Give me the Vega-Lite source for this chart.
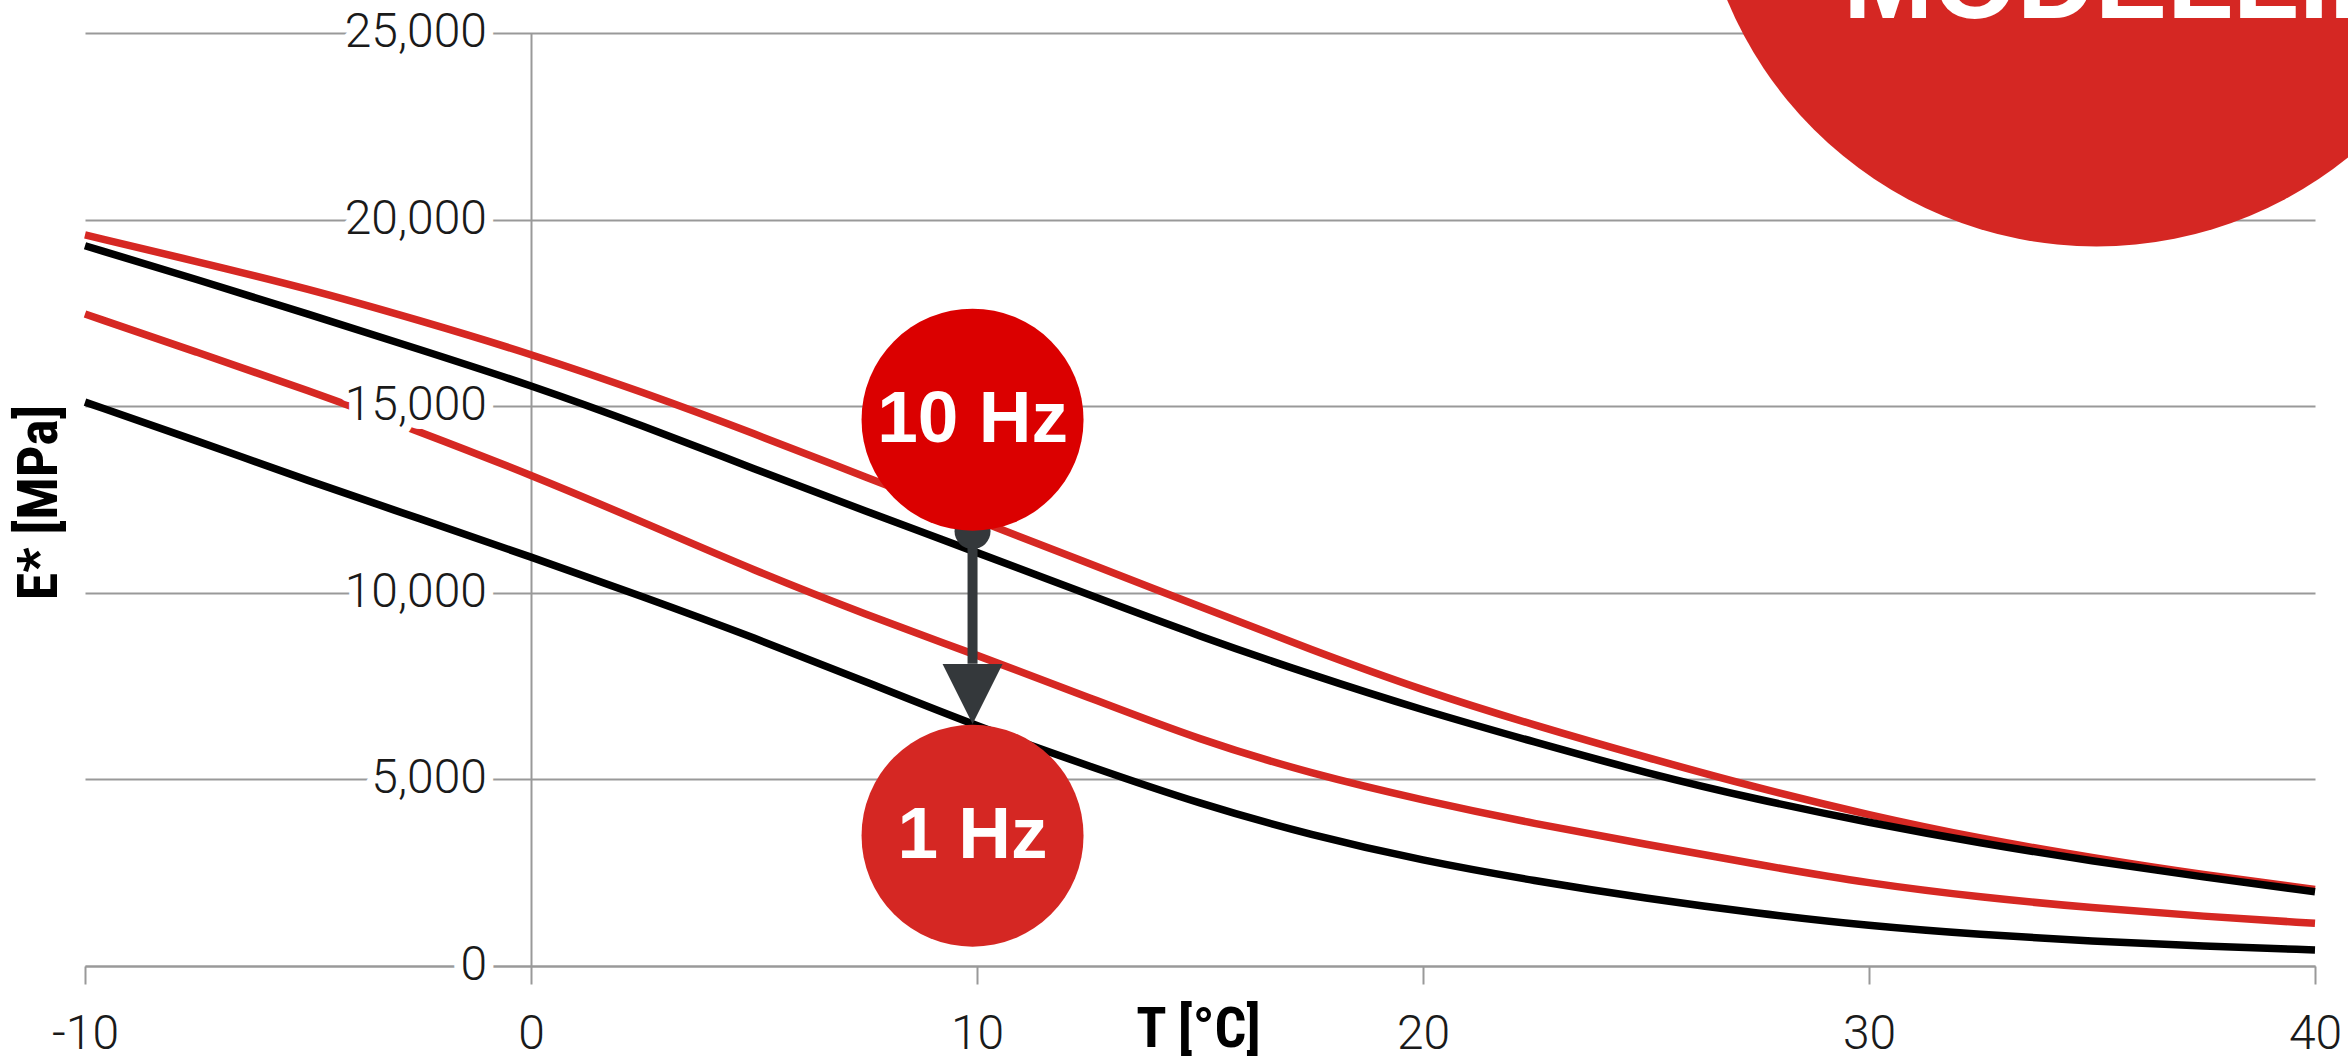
{
  "$schema": "https://vega.github.io/schema/vega-lite/v6.json",
  "autosize": {"type": "none"},
  "padding": {"left": 85, "top": 33, "right": 33, "bottom": 94},
  "width": 2230,
  "height": 933,
  "background": "white",
  "config": {"view": {"stroke": null}},
  "datasets": {
    "curves": [
      {"T": -10, "E": 19590, "series": "10 Hz modelliert"},
      {"T": -7.5, "E": 18880, "series": "10 Hz modelliert"},
      {"T": -5, "E": 18150, "series": "10 Hz modelliert"},
      {"T": -2.5, "E": 17300, "series": "10 Hz modelliert"},
      {"T": 0, "E": 16400, "series": "10 Hz modelliert"},
      {"T": 2.5, "E": 15380, "series": "10 Hz modelliert"},
      {"T": 5, "E": 14270, "series": "10 Hz modelliert"},
      {"T": 7.5, "E": 13100, "series": "10 Hz modelliert"},
      {"T": 10, "E": 11950, "series": "10 Hz modelliert"},
      {"T": 12.5, "E": 10790, "series": "10 Hz modelliert"},
      {"T": 15, "E": 9630, "series": "10 Hz modelliert"},
      {"T": 17.5, "E": 8470, "series": "10 Hz modelliert"},
      {"T": 20, "E": 7380, "series": "10 Hz modelliert"},
      {"T": 22.5, "E": 6450, "series": "10 Hz modelliert"},
      {"T": 25, "E": 5590, "series": "10 Hz modelliert"},
      {"T": 27.5, "E": 4770, "series": "10 Hz modelliert"},
      {"T": 30, "E": 4040, "series": "10 Hz modelliert"},
      {"T": 32.5, "E": 3410, "series": "10 Hz modelliert"},
      {"T": 35, "E": 2900, "series": "10 Hz modelliert"},
      {"T": 37.5, "E": 2440, "series": "10 Hz modelliert"},
      {"T": 40, "E": 2054, "series": "10 Hz modelliert"},

      {"T": -10, "E": 19300, "series": "10 Hz gemessen"},
      {"T": -7.5, "E": 18400, "series": "10 Hz gemessen"},
      {"T": -5, "E": 17470, "series": "10 Hz gemessen"},
      {"T": -2.5, "E": 16520, "series": "10 Hz gemessen"},
      {"T": 0, "E": 15560, "series": "10 Hz gemessen"},
      {"T": 2.5, "E": 14480, "series": "10 Hz gemessen"},
      {"T": 5, "E": 13320, "series": "10 Hz gemessen"},
      {"T": 7.5, "E": 12190, "series": "10 Hz gemessen"},
      {"T": 10, "E": 11080, "series": "10 Hz gemessen"},
      {"T": 12.5, "E": 9950, "series": "10 Hz gemessen"},
      {"T": 15, "E": 8830, "series": "10 Hz gemessen"},
      {"T": 17.5, "E": 7800, "series": "10 Hz gemessen"},
      {"T": 20, "E": 6850, "series": "10 Hz gemessen"},
      {"T": 22.5, "E": 6000, "series": "10 Hz gemessen"},
      {"T": 25, "E": 5170, "series": "10 Hz gemessen"},
      {"T": 27.5, "E": 4460, "series": "10 Hz gemessen"},
      {"T": 30, "E": 3840, "series": "10 Hz gemessen"},
      {"T": 32.5, "E": 3290, "series": "10 Hz gemessen"},
      {"T": 35, "E": 2815, "series": "10 Hz gemessen"},
      {"T": 37.5, "E": 2380, "series": "10 Hz gemessen"},
      {"T": 40, "E": 1991, "series": "10 Hz gemessen"},

      {"T": -10, "E": 17470, "series": "1 Hz modelliert"},
      {"T": -7.5, "E": 16450, "series": "1 Hz modelliert"},
      {"T": -5, "E": 15430, "series": "1 Hz modelliert"},
      {"T": -2.5, "E": 14320, "series": "1 Hz modelliert"},
      {"T": 0, "E": 13160, "series": "1 Hz modelliert"},
      {"T": 2.5, "E": 11900, "series": "1 Hz modelliert"},
      {"T": 5, "E": 10600, "series": "1 Hz modelliert"},
      {"T": 7.5, "E": 9420, "series": "1 Hz modelliert"},
      {"T": 10, "E": 8330, "series": "1 Hz modelliert"},
      {"T": 12.5, "E": 7200, "series": "1 Hz modelliert"},
      {"T": 15, "E": 6050, "series": "1 Hz modelliert"},
      {"T": 17.5, "E": 5150, "series": "1 Hz modelliert"},
      {"T": 20, "E": 4440, "series": "1 Hz modelliert"},
      {"T": 22.5, "E": 3810, "series": "1 Hz modelliert"},
      {"T": 25, "E": 3260, "series": "1 Hz modelliert"},
      {"T": 27.5, "E": 2720, "series": "1 Hz modelliert"},
      {"T": 30, "E": 2210, "series": "1 Hz modelliert"},
      {"T": 32.5, "E": 1840, "series": "1 Hz modelliert"},
      {"T": 35, "E": 1555, "series": "1 Hz modelliert"},
      {"T": 37.5, "E": 1330, "series": "1 Hz modelliert"},
      {"T": 40, "E": 1143, "series": "1 Hz modelliert"},

      {"T": -10, "E": 15110, "series": "1 Hz gemessen"},
      {"T": -7.5, "E": 14080, "series": "1 Hz gemessen"},
      {"T": -5, "E": 13000, "series": "1 Hz gemessen"},
      {"T": -2.5, "E": 11990, "series": "1 Hz gemessen"},
      {"T": 0, "E": 10960, "series": "1 Hz gemessen"},
      {"T": 2.5, "E": 9900, "series": "1 Hz gemessen"},
      {"T": 5, "E": 8800, "series": "1 Hz gemessen"},
      {"T": 7.5, "E": 7620, "series": "1 Hz gemessen"},
      {"T": 10, "E": 6420, "series": "1 Hz gemessen"},
      {"T": 12.5, "E": 5360, "series": "1 Hz gemessen"},
      {"T": 15, "E": 4340, "series": "1 Hz gemessen"},
      {"T": 17.5, "E": 3500, "series": "1 Hz gemessen"},
      {"T": 20, "E": 2820, "series": "1 Hz gemessen"},
      {"T": 22.5, "E": 2280, "series": "1 Hz gemessen"},
      {"T": 25, "E": 1810, "series": "1 Hz gemessen"},
      {"T": 27.5, "E": 1410, "series": "1 Hz gemessen"},
      {"T": 30, "E": 1075, "series": "1 Hz gemessen"},
      {"T": 32.5, "E": 840, "series": "1 Hz gemessen"},
      {"T": 35, "E": 660, "series": "1 Hz gemessen"},
      {"T": 37.5, "E": 530, "series": "1 Hz gemessen"},
      {"T": 40, "E": 429, "series": "1 Hz gemessen"}
    ],
    "yticks": [
      {"E": 0}, {"E": 5000}, {"E": 10000}, {"E": 15000}, {"E": 20000}, {"E": 25000}
    ]
  },
  "layer": [
    {
      "data": {"name": "curves"},
      "mark": {"type": "line", "strokeWidth": 7.5, "interpolate": "basis"},
      "encoding": {
        "x": {
          "field": "T", "type": "quantitative",
          "scale": {"domain": [-10, 40], "nice": false, "zero": false},
          "axis": {
            "values": [-10, 0, 10, 20, 30, 40],
            "labelExpr": "'' + datum.value",
            "grid": false,
            "domainColor": "#999999", "domainWidth": 2,
            "tickColor": "#999999", "tickWidth": 2, "tickSize": 18,
            "labelFont": "Roboto", "labelFontSize": 48, "labelFontWeight": 300, "labelColor": "#1a1a1a",
            "labelBaseline": "alphabetic", "labelPadding": 64, "labelFlush": false, "labelOverlap": false,
            "title": "T [°C]",
            "titleFont": "Liberation Sans Narrow, Roboto Condensed, DejaVu Sans Condensed, sans-serif",
            "titleFontSize": 56, "titleFontWeight": "bold", "titleColor": "#000000",
            "titleX": 1113, "titleY": 80, "titleAlign": "center", "titleBaseline": "alphabetic"
          }
        },
        "y": {
          "field": "E", "type": "quantitative",
          "scale": {"domain": [0, 25000], "nice": false},
          "axis": {
            "values": [0, 5000, 10000, 15000, 20000, 25000],
            "offset": -446,
            "grid": true, "gridColor": "#999999", "gridWidth": 2,
            "domain": true, "domainColor": "#999999", "domainWidth": 2,
            "ticks": false, "labels": false,
            "title": "E* [MPa]",
            "titleFont": "Liberation Sans Narrow, Roboto Condensed, DejaVu Sans Condensed, sans-serif",
            "titleFontSize": 56, "titleFontWeight": "bold", "titleColor": "#000000",
            "titleAngle": 270, "titleX": -492, "titleY": 469,
            "titleAlign": "center", "titleBaseline": "middle"
          }
        },
        "color": {
          "field": "series", "type": "nominal",
          "scale": {
            "domain": ["10 Hz modelliert", "10 Hz gemessen", "1 Hz modelliert", "1 Hz gemessen"],
            "range": ["#d62823", "#000000", "#d62823", "#000000"]
          },
          "legend": null
        }
      }
    },
    {
      "data": {"name": "yticks"},
      "mark": {"type": "text", "align": "right", "baseline": "middle", "dx": -44,
               "font": "Roboto", "fontSize": 48, "fontWeight": 300,
               "fill": "white", "stroke": "white", "strokeWidth": 18, "strokeJoin": "round"},
      "encoding": {
        "x": {"datum": 0, "type": "quantitative"},
        "y": {"field": "E", "type": "quantitative"},
        "text": {"field": "E", "type": "quantitative", "format": ","}
      }
    },
    {
      "data": {"name": "yticks"},
      "mark": {"type": "text", "align": "right", "baseline": "middle", "dx": -44,
               "font": "Roboto", "fontSize": 48, "fontWeight": 300, "fill": "#1a1a1a"},
      "encoding": {
        "x": {"datum": 0, "type": "quantitative"},
        "y": {"field": "E", "type": "quantitative"},
        "text": {"field": "E", "type": "quantitative", "format": ","}
      }
    },
    {
      "data": {"values": [{"T": 35.1, "E": 30000}]},
      "mark": {"type": "point", "shape": "circle", "filled": true, "size": 640000, "color": "#d52723", "opacity": 1, "strokeWidth": 0},
      "encoding": {
        "x": {"field": "T", "type": "quantitative"},
        "y": {"field": "E", "type": "quantitative"}
      }
    },
    {
      "data": {"values": [{"T": 29.42, "E": 25400, "label": "MODELLIERT"}]},
      "mark": {"type": "text", "align": "left", "baseline": "alphabetic",
               "font": "Liberation Sans", "fontSize": 108, "fontWeight": "bold", "fill": "white"},
      "encoding": {
        "x": {"field": "T", "type": "quantitative"},
        "y": {"field": "E", "type": "quantitative"},
        "text": {"field": "label"}
      }
    },
    {
      "data": {"values": [{"T": 9.9, "E": 11650, "E2": 8100}]},
      "mark": {"type": "rule", "strokeWidth": 10, "color": "#34383b"},
      "encoding": {
        "x": {"field": "T", "type": "quantitative"},
        "y": {"field": "E", "type": "quantitative"},
        "y2": {"field": "E2"}
      }
    },
    {
      "data": {"values": [{"T": 9.9, "E": 11650}]},
      "mark": {"type": "point", "shape": "circle", "filled": true, "size": 1296, "color": "#34383b", "opacity": 1, "strokeWidth": 0},
      "encoding": {
        "x": {"field": "T", "type": "quantitative"},
        "y": {"field": "E", "type": "quantitative"}
      }
    },
    {
      "data": {"values": [{"T": 9.9, "E": 7290}]},
      "mark": {"type": "point", "shape": "M-1,-1L1,-1L0,1Z", "filled": true, "size": 3600, "color": "#34383b", "opacity": 1, "strokeWidth": 0},
      "encoding": {
        "x": {"field": "T", "type": "quantitative"},
        "y": {"field": "E", "type": "quantitative"}
      }
    },
    {
      "data": {"values": [{"T": 9.9, "E": 14640}]},
      "mark": {"type": "point", "shape": "circle", "filled": true, "size": 49284, "color": "#db0000", "opacity": 1, "strokeWidth": 0},
      "encoding": {
        "x": {"field": "T", "type": "quantitative"},
        "y": {"field": "E", "type": "quantitative"}
      }
    },
    {
      "data": {"values": [{"T": 9.9, "E": 3490}]},
      "mark": {"type": "point", "shape": "circle", "filled": true, "size": 49284, "color": "#d52723", "opacity": 1, "strokeWidth": 0},
      "encoding": {
        "x": {"field": "T", "type": "quantitative"},
        "y": {"field": "E", "type": "quantitative"}
      }
    },
    {
      "data": {"values": [{"T": 9.9, "E": 14640, "label": "10 Hz"}, {"T": 9.9, "E": 3490, "label": "1 Hz"}]},
      "mark": {"type": "text", "align": "center", "baseline": "middle",
               "font": "Liberation Sans", "fontSize": 73, "fontWeight": "bold", "fill": "white"},
      "encoding": {
        "x": {"field": "T", "type": "quantitative"},
        "y": {"field": "E", "type": "quantitative"},
        "text": {"field": "label"}
      }
    }
  ]
}
